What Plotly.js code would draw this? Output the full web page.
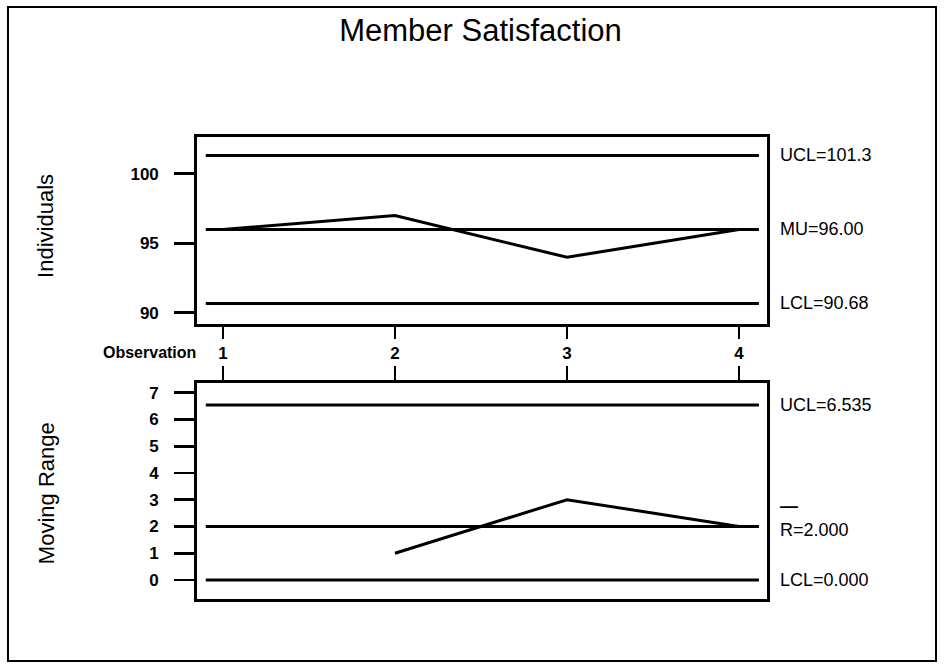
<!DOCTYPE html>
<html>
<head>
<meta charset="utf-8">
<script src="https://cdn.plot.ly/plotly-3.0.1.min.js"></script>
<style>
html,body{margin:0;padding:0;background:#fff;}
#chart{width:944px;height:664px;}
</style>
</head>
<body>
<div id="chart"></div>
<script>
// ---- Data ----
var observations = [1, 2, 3, 4];
var individuals = [96, 97, 94, 96];
var mrObservations = [2, 3, 4];
var movingRange = [1, 3, 2];

var indUCL = 101.32, indMean = 96.00, indLCL = 90.68;
var mrUCL = 6.535, mrMean = 2.000, mrLCL = 0.000;

var indLabels = ["UCL=101.3", "MU=96.00", "LCL=90.68"];
var mrLabels = ["UCL=6.535", "R=2.000", "LCL=0.000"];
var indTicks = [90, 95, 100];
var mrTicks = [0, 1, 2, 3, 4, 5, 6, 7];

// ---- Style ----
var FONT = "Liberation Sans, Arial, sans-serif";
var lineStart = 0.90, lineEnd = 4.116;
var LW = 3;

function hline(y, xa, ya) {
  return {x: [lineStart, lineEnd], y: [y, y], xaxis: xa, yaxis: ya, mode: "lines",
          line: {color: "#000", width: LW}, hoverinfo: "skip", showlegend: false};
}

var traces = [
  hline(indUCL, "x", "y"), hline(indMean, "x", "y"), hline(indLCL, "x", "y"),
  {x: observations, y: individuals, xaxis: "x", yaxis: "y", mode: "lines",
   line: {color: "#000", width: LW}, showlegend: false},
  hline(mrUCL, "x2", "y2"), hline(mrMean, "x2", "y2"), hline(mrLCL, "x2", "y2"),
  {x: mrObservations, y: movingRange, xaxis: "x2", yaxis: "y2", mode: "lines",
   line: {color: "#000", width: LW}, showlegend: false}
];

var xr = [0.849, 4.163];
var axisCommon = {showgrid: false, zeroline: false, showline: true, linecolor: "#000",
                  linewidth: 2.8, mirror: true, ticks: "outside", tickcolor: "#000",
                  tickwidth: 2.8, tickfont: {family: FONT, size: 17, color: "#000", weight: "bold"}};

var labFont = {family: FONT, size: 18, color: "#000"};
var lx = 1.019;
var annotations = [
  {xref: "paper", yref: "y", x: lx, y: indUCL, text: indLabels[0], showarrow: false, xanchor: "left", yanchor: "middle", font: labFont},
  {xref: "paper", yref: "y", x: lx, y: indMean, text: indLabels[1], showarrow: false, xanchor: "left", yanchor: "middle", font: labFont},
  {xref: "paper", yref: "y", x: lx, y: indLCL, text: indLabels[2], showarrow: false, xanchor: "left", yanchor: "middle", font: labFont},
  {xref: "paper", yref: "y2", x: lx, y: mrUCL, text: mrLabels[0], showarrow: false, xanchor: "left", yanchor: "middle", font: labFont},
  {xref: "paper", yref: "y2", x: lx, y: mrMean, text: mrLabels[1], showarrow: false, xanchor: "left", yanchor: "middle", yshift: -4, font: labFont},
  {xref: "paper", yref: "y2", x: lx, y: mrMean, text: "\u2014", showarrow: false, xanchor: "left", yanchor: "middle", yshift: 20, font: {family: FONT, size: 18, color: "#000", weight: "bold"}},
  {xref: "paper", yref: "y2", x: lx, y: mrLCL, text: mrLabels[2], showarrow: false, xanchor: "left", yanchor: "middle", font: labFont},
  {xref: "paper", yref: "paper", x: 0.002, y: 0.5346, text: "Observation", showarrow: false, xanchor: "right", yanchor: "middle", font: {family: FONT, size: 16, color: "#000", weight: "bold"}},
  {xref: "paper", yref: "paper", x: -0.265, y: 0.8074, text: "Individuals", textangle: -90, showarrow: false, xanchor: "center", yanchor: "middle", font: {family: FONT, size: 22, color: "#000"}},
  {xref: "paper", yref: "paper", x: -0.265, y: 0.229, text: "Moving Range", textangle: -90, showarrow: false, xanchor: "center", yanchor: "middle", font: {family: FONT, size: 22, color: "#000"}}
];

var layout = {
  width: 944, height: 664,
  margin: {l: 197, r: 177, t: 137, b: 65, pad: 0},
  paper_bgcolor: "#fff", plot_bgcolor: "#fff",
  title: {text: "Member Satisfaction", font: {family: FONT, size: 31, color: "#000"},
          xref: "container", x: 0.509, yref: "container", y: 0.955, xanchor: "center", yanchor: "middle"},
  xaxis: Object.assign({}, axisCommon, {domain: [0, 1], range: xr, anchor: "y", side: "bottom",
          tickvals: observations, ticktext: observations.map(String), ticklen: 12}),
  yaxis: Object.assign({}, axisCommon, {domain: [0.5952, 1], range: [89.2, 102.65], anchor: "x",
          tickvals: indTicks, ticklen: 20, ticklabelstandoff: 12}),
  xaxis2: Object.assign({}, axisCommon, {domain: [0, 1], range: xr, anchor: "y2", side: "top",
          tickvals: observations, showticklabels: false, ticklen: 14}),
  yaxis2: Object.assign({}, axisCommon, {domain: [0, 0.4675], range: [-0.71, 7.36], anchor: "x2",
          tickvals: mrTicks, ticklen: 20, ticklabelstandoff: 12}),
  annotations: annotations,
  shapes: [
    {type: "rect", xref: "paper", yref: "paper", x0: -0.3316, x1: 1.2965, y0: -0.134, y1: 1.2814,
     line: {color: "#000", width: 2}, fillcolor: "rgba(0,0,0,0)", layer: "below"}
  ],
  showlegend: false
};

Plotly.newPlot("chart", traces, layout, {displayModeBar: false, staticPlot: true});
</script>
</body>
</html>
